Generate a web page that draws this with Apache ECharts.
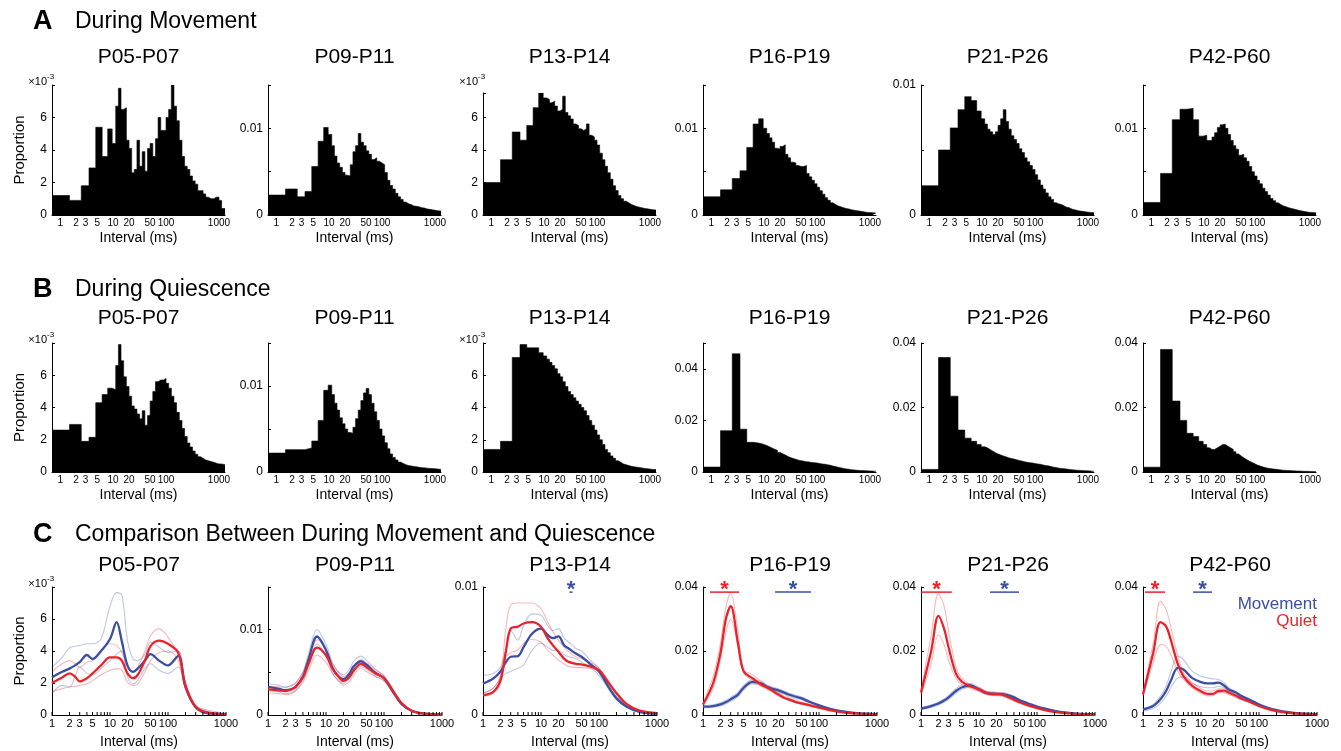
<!DOCTYPE html>
<html><head><meta charset="utf-8">
<script src="https://cdn.jsdelivr.net/npm/echarts@6/dist/echarts.min.js"></script>
<style>html,body{margin:0;padding:0;background:#fff}#c{width:1341px;height:751px}</style>
</head><body><div id="c"></div>
<script>
// ---------------- DATA (all proportions in units of 1e-3) ----------------
const SECTION_LETTERS = ['A', 'B', 'C'];
const SECTION_TITLES = ['During Movement', 'During Quiescence', 'Comparison Between During Movement and Quiescence'];
const AGE_GROUPS = ['P05-P07', 'P09-P11', 'P13-P14', 'P16-P19', 'P21-P26', 'P42-P60'];
const X_TICK_LABELS = [1, 2, 3, 5, 10, 20, 50, 100, 1000];
const X_MINOR_TICKS_C = [1,2,3,4,5,6,7,8,9,10,20,30,40,50,60,70,80,90,100,200,300,400,500,600,700,800,900,1000];
const LEGEND_NAMES = ['Movement', 'Quiet'];

// histogram bin edges (ms)
const BIN_EDGES = [0.7, 1.5, 2.5, 3.5, 4.7, 6.2, 7.9, 9.6, 11.2, 12.6, 14.1, 15.8, 17.8, 20, 22.4, 25.1, 28.2, 31.6, 35.5, 39.8, 44.7, 50.1, 56.2, 63.1, 70.8, 79.4, 89.1, 100, 112, 126, 141, 158, 178, 200, 224, 251, 282, 316, 355, 398, 447, 501, 562, 631, 708, 794, 891, 1000, 1122, 1300];

// A: during movement
const MOV_P05 = [1.2,0.9,1.8,2.9,5.4,3.6,5.3,4.4,6.7,7.8,6.5,6.6,4.6,4.1,2.6,2.8,4.6,3.0,3.9,2.7,4.1,4.4,3.6,4.7,6.0,5.2,5.2,6.0,6.5,8.0,6.7,5.8,4.6,3.6,3.0,2.8,2.4,2.1,1.9,1.5,1.5,1.3,1.1,1.0,1.0,1.1,1.1,0.9,0.4];
const MOV_P09 = [2.3,3.0,2.1,2.7,5.6,8.5,10.1,9.3,8.0,6.8,6.0,5.5,4.9,4.6,4.5,5.8,7.3,8.0,9.4,8.4,8.0,7.4,7.0,6.4,6.6,6.2,6.0,5.8,4.9,4.0,3.4,3.0,2.5,2.1,1.8,1.5,1.3,1.2,1.05,1.0,0.95,0.85,0.8,0.7,0.65,0.6,0.55,0.5,0.45];
const MOV_P13 = [2.0,3.4,5.1,4.6,5.5,6.6,7.5,7.2,7.1,6.9,7.0,6.7,6.4,6.5,7.3,6.3,6.1,5.9,5.6,5.5,5.3,5.2,5.3,5.6,4.9,4.8,4.6,4.3,3.8,3.4,3.0,2.6,2.2,1.8,1.5,1.2,1.0,0.85,0.75,0.65,0.58,0.52,0.48,0.44,0.4,0.38,0.35,0.33,0.3];
const MOV_P16 = [2.1,2.9,4.2,5.1,7.8,10.5,11.1,10.0,9.4,8.9,8.4,7.7,7.6,7.9,8.1,7.0,6.6,6.1,6.0,5.7,5.6,5.6,5.7,4.8,4.4,4.0,3.6,3.2,2.8,2.4,2.0,1.7,1.4,1.2,1.05,0.95,0.85,0.75,0.7,0.6,0.55,0.5,0.45,0.4,0.35,0.3,0.28,0.25,0.22];
const MOV_P21 = [2.25,5.0,6.7,8.1,9.1,8.8,8.0,7.4,7.0,6.6,6.4,6.2,6.4,6.9,7.4,8.1,7.2,6.6,6.1,5.8,5.5,5.1,4.8,4.4,4.1,3.8,3.5,3.1,2.7,2.3,2.0,1.7,1.4,1.2,0.95,0.85,0.8,0.7,0.6,0.55,0.45,0.4,0.35,0.3,0.28,0.25,0.22,0.2,0.18];
const MOV_P42 = [1.45,4.8,11.0,12.2,12.3,11.0,9.1,9.2,8.6,8.6,9.0,9.5,10.1,10.4,10.5,10.0,9.3,8.6,8.0,7.6,6.9,7.0,6.6,6.2,5.6,5.0,4.5,4.0,3.6,3.1,2.7,2.3,1.9,1.65,1.4,1.2,1.05,0.95,0.85,0.75,0.68,0.6,0.52,0.45,0.4,0.35,0.3,0.28,0.25];

// B: during quiescence
const QUI_P05 = [2.6,2.95,1.9,2.15,4.3,4.8,5.2,5.1,6.6,7.9,6.9,5.9,5.3,4.7,4.1,3.9,3.6,3.3,3.8,2.9,3.5,4.4,5.0,5.6,5.7,5.7,5.8,5.5,5.2,4.7,4.3,3.7,3.2,2.7,2.2,1.8,1.55,1.3,1.1,0.95,0.85,0.75,0.7,0.65,0.6,0.55,0.5,0.5,0.45];
const QUI_P09 = [2.2,2.6,2.6,2.8,3.6,6.0,9.5,10.1,9.0,8.0,7.2,6.3,5.6,5.0,4.6,4.5,5.2,6.2,7.2,8.3,9.2,9.7,9.0,8.0,7.0,6.0,5.0,4.2,3.4,2.7,2.1,1.7,1.4,1.15,1.0,0.85,0.75,0.7,0.65,0.6,0.55,0.5,0.48,0.45,0.42,0.4,0.38,0.35,0.3];
const QUI_P13 = [1.4,1.9,7.1,7.9,7.7,7.7,7.4,7.2,7.0,6.8,6.6,6.4,6.1,5.9,5.6,5.3,5.0,4.8,4.6,4.4,4.2,4.0,3.8,3.5,3.2,2.9,2.6,2.3,2.0,1.7,1.4,1.2,1.0,0.85,0.7,0.6,0.5,0.45,0.4,0.35,0.32,0.3,0.28,0.25,0.22,0.2,0.18,0.16,0.15];
const QUI_P16 = [1.9,16.0,45.8,16.6,11.5,11.2,10.8,10.3,9.8,9.3,8.8,8.4,7.6,7.1,6.6,6.0,5.6,5.2,4.9,4.6,4.4,4.2,4.0,3.9,3.7,3.6,3.5,3.3,3.1,3.0,2.8,2.6,2.3,2.1,1.8,1.6,1.4,1.2,1.05,0.9,0.8,0.7,0.6,0.55,0.5,0.45,0.4,0.35,0.3];
const QUI_P21 = [0.8,35.5,23.5,13.0,10.5,9.5,8.5,7.8,7.5,7.0,6.5,6.0,5.6,5.3,5.0,4.7,4.4,4.2,4.0,3.8,3.6,3.4,3.2,3.0,2.9,2.8,2.6,2.5,2.4,2.2,2.0,1.9,1.7,1.5,1.4,1.2,1.1,1.0,0.9,0.8,0.7,0.6,0.55,0.5,0.45,0.4,0.35,0.3,0.25];
const QUI_P42 = [1.5,38,22,16,12,11,9.5,8.5,7.5,7.0,7.0,7.5,8.0,8.5,8.5,8.0,7.5,7.0,6.3,5.6,5.0,4.4,3.9,3.4,3.0,2.6,2.2,1.9,1.6,1.4,1.2,1.05,0.95,0.85,0.75,0.65,0.55,0.5,0.45,0.4,0.35,0.3,0.28,0.25,0.22,0.2,0.18,0.16,0.15];

// C: smoothed comparison curves, sampled at these intervals (ms)
const X_C = [1, 1.5, 2, 2.5, 3, 4, 5, 7, 10, 13, 16, 20, 25, 30, 40, 50, 70, 100, 150, 200, 300, 500, 1000];
const C_P05_MOV    = [2.35,2.7,2.9,3.1,3.3,3.75,3.5,4.0,4.75,5.8,4.6,3.1,2.7,2.9,3.4,3.8,3.4,3.1,3.7,1.75,0.5,0.1,0.05];
const C_P05_QUI    = [2.0,2.35,2.6,2.4,2.1,2.3,2.6,3.1,3.6,3.6,3.4,2.6,2.3,2.5,3.4,4.3,4.65,4.45,3.9,1.85,0.5,0.15,0.05];
const C_P05_MOV_HI = [3.0,3.6,4.2,4.3,4.35,4.45,4.45,4.75,6.8,7.65,7.5,4.65,3.5,3.4,3.8,4.55,4.25,3.9,4.0,2.0,0.6,0.3,0.1];
const C_P05_MOV_LO = [1.35,1.85,1.75,2.4,3.0,2.6,2.5,2.9,3.4,3.8,4.0,2.4,1.95,2.15,2.9,3.2,2.8,2.6,3.0,1.65,0.4,0.05,0];
const C_P05_QUI_HI = [2.7,3.2,3.4,3.2,3.0,3.3,3.4,4.0,4.45,4.35,3.9,3.0,2.7,3.0,4.0,4.95,5.4,4.85,3.8,2.0,0.6,0.2,0.05];
const C_P05_QUI_LO = [1.45,1.65,1.75,1.8,1.85,1.95,2.15,2.5,2.8,2.9,2.8,2.05,1.85,1.95,2.7,3.4,3.9,4.0,3.4,1.65,0.45,0.1,0.05];

const C_P09_MOV    = [3.3,3.1,2.9,3.0,3.3,4.5,6.5,9.2,7.6,5.5,4.6,4.2,4.8,5.7,6.3,5.9,5.0,4.3,2.5,1.3,0.5,0.15,0.05];
const C_P09_QUI    = [3.0,2.9,2.8,3.0,3.3,4.4,6.0,7.9,7.0,5.4,4.6,4.0,4.4,5.2,6.0,5.6,4.9,4.3,2.6,1.4,0.5,0.15,0.05];
const C_P09_MOV_HI = [3.7,3.5,3.3,3.4,3.7,5.0,7.2,10.0,8.3,6.1,5.1,4.7,5.3,6.3,6.9,6.4,5.4,4.6,2.7,1.4,0.55,0.17,0.05];
const C_P09_MOV_LO = [2.9,2.7,2.5,2.6,2.9,4.0,5.8,8.3,6.9,4.9,4.1,3.7,4.3,5.1,5.7,5.4,4.6,4.0,2.3,1.2,0.45,0.13,0.05];
const C_P09_QUI_HI = [3.4,3.3,3.2,3.5,3.8,5.0,6.7,8.8,7.8,6.0,5.1,4.5,4.9,5.7,6.5,6.1,5.3,4.6,2.8,1.5,0.55,0.17,0.05];
const C_P09_QUI_LO = [2.6,2.5,2.4,2.5,2.8,3.8,5.3,7.0,6.2,4.8,4.1,3.5,3.9,4.7,5.5,5.1,4.5,4.0,2.4,1.3,0.45,0.13,0.05];

const C_P13_MOV    = [2.45,2.85,3.4,4.15,4.55,4.6,5.3,6.35,6.75,6.25,6.0,6.15,5.45,5.2,4.8,4.55,4.0,3.4,2.1,1.3,0.65,0.25,0.08];
const C_P13_QUI    = [1.55,1.8,2.7,5.05,6.75,6.9,7.15,7.25,6.9,6.0,5.45,4.95,4.4,4.15,4.0,3.95,3.8,3.5,2.45,1.7,0.85,0.35,0.15];
const C_P13_MOV_HI = [3.1,3.25,3.75,5.2,6.6,5.85,7.0,7.9,7.8,7.0,6.6,6.75,6.0,5.7,5.2,5.0,4.3,3.65,2.2,1.45,0.75,0.3,0.1];
const C_P13_MOV_LO = [1.7,2.1,2.85,3.25,3.4,3.65,3.9,5.05,5.6,5.3,5.05,5.05,4.7,4.55,4.4,4.15,3.75,3.1,1.95,1.2,0.6,0.25,0.08];
const C_P13_QUI_HI = [1.7,2.1,3.1,6.9,8.6,8.75,8.75,8.75,8.3,7.3,6.5,5.85,5.3,4.95,4.55,4.4,4.15,3.65,2.6,1.8,0.9,0.4,0.15];
const C_P13_QUI_LO = [1.45,1.7,2.45,4.55,4.85,5.1,5.6,5.9,5.7,5.05,4.7,4.3,4.0,3.8,3.7,3.7,3.65,3.4,2.4,1.65,0.85,0.35,0.15];

const C_P16_MOV    = [2.6,2.8,3.3,4.05,4.9,6.4,8.5,10.3,9.9,8.7,8.2,7.7,7.0,6.4,5.7,5.2,4.05,3.0,2.0,1.45,0.95,0.5,0.3];
const C_P16_QUI    = [3.3,10,19.4,30.3,34,22.5,13.7,11.6,9.55,8.5,7.5,6.4,5.4,4.9,4.05,3.6,3.0,2.3,1.55,1.15,0.7,0.4,0.2];
const C_P16_MOV_HI = [3.0,3.2,3.8,4.6,5.5,7.1,9.2,10.9,10.5,9.2,8.7,8.2,7.5,6.9,6.2,5.6,4.4,3.3,2.2,1.6,1.05,0.55,0.32];
const C_P16_MOV_LO = [2.2,2.4,2.8,3.5,4.3,5.7,7.8,9.7,9.3,8.2,7.7,7.2,6.5,5.9,5.2,4.8,3.7,2.7,1.8,1.3,0.85,0.45,0.28];
const C_P16_QUI_HI = [3.85,12.1,22.5,34,38.1,26.2,14.2,12.7,10.6,9.2,8.2,7.0,5.9,5.4,4.6,4.05,3.3,2.6,1.75,1.35,0.85,0.5,0.3];
const C_P16_QUI_LO = [2.8,8.5,17.3,26.2,29.8,21.5,13.2,10.9,9.0,8.0,7.0,5.9,5.1,4.6,3.85,3.3,2.8,2.1,1.45,1.05,0.6,0.4,0.2];

const C_P21_MOV    = [2.0,2.8,3.6,4.5,5.5,7.5,8.6,9.3,8.0,7.0,6.7,6.5,6.5,6.3,5.5,4.6,3.6,2.6,1.8,1.3,0.8,0.4,0.2];
const C_P21_QUI    = [7.0,20,31,27,21,13,10.5,9.0,8.0,7.0,6.6,6.6,6.4,5.8,4.8,4.0,3.0,2.2,1.4,1.0,0.6,0.3,0.15];
const C_P21_MOV_HI = [2.4,3.2,4.1,5.0,6.1,8.2,9.3,9.9,8.6,7.5,7.2,7.0,7.0,6.8,5.9,4.9,3.9,2.8,1.9,1.4,0.9,0.45,0.22];
const C_P21_MOV_LO = [1.6,2.4,3.1,4.0,4.9,6.8,7.9,8.7,7.4,6.5,6.2,6.0,6.0,5.8,5.1,4.3,3.3,2.4,1.7,1.2,0.7,0.35,0.18];
const C_P21_QUI_HI = [7.8,25,38,34,26,15,11.5,9.6,8.5,7.5,7.1,7.1,6.9,6.2,5.2,4.3,3.3,2.4,1.5,1.1,0.7,0.35,0.18];
const C_P21_QUI_LO = [6.2,16,25,22,17,11.5,9.5,8.4,7.4,6.5,6.1,6.1,5.9,5.4,4.4,3.7,2.8,2.0,1.3,0.9,0.5,0.25,0.12];

const C_P42_MOV    = [1.75,2.8,4.9,7.5,10.6,14.7,14.2,11.6,10.3,9.9,9.9,10.1,9.2,8.0,7.0,5.9,4.7,3.3,2.1,1.55,0.95,0.5,0.3];
const C_P42_QUI    = [6.45,19.4,29,27.7,23.6,15.8,12.1,9.2,7.4,6.6,6.6,7.5,7.6,7.0,6.0,5.1,4.05,2.8,1.75,1.25,0.75,0.4,0.2];
const C_P42_MOV_HI = [2.0,3.3,5.9,9.0,13.2,18.4,17.3,13.7,12.1,11.6,11.3,11.1,10.1,8.5,7.3,6.2,4.9,3.5,2.3,1.65,1.05,0.6,0.3];
const C_P42_MOV_LO = [1.25,2.0,3.6,5.9,8.5,11.6,11.9,9.9,8.8,8.5,8.5,9.0,8.5,7.5,6.4,5.6,4.4,3.1,1.9,1.35,0.85,0.4,0.2];
const C_P42_QUI_HI = [7.0,22.5,35.5,33,27.7,18.4,13.2,10.3,8.3,7.5,7.5,8.2,8.2,7.6,6.4,5.5,4.4,3.1,2.0,1.45,0.85,0.5,0.3];
const C_P42_QUI_LO = [5.9,16.3,22,21.5,18.9,13.7,11.1,8.5,6.8,6.0,6.0,7.0,7.0,6.4,5.5,4.8,3.75,2.6,1.55,1.05,0.6,0.3,0.2];

// significance bars: [x start (ms), x end (ms), y level, which]
const SIG_P13 = [[31, 35, 9.6, 'mov']];
const SIG_P16 = [[1.32, 4.2, 38.4, 'qui'], [17.5, 73, 38.4, 'mov']];
const SIG_P21 = [[1.0, 3.4, 38.4, 'qui'], [15.5, 49, 38.4, 'mov']];
const SIG_P42 = [[1.08, 2.4, 38.4, 'qui'], [7.3, 15.5, 38.4, 'mov']];

// ---------------- LAYOUT / STYLE ----------------
const FONT = 'Liberation Sans, Arial, Helvetica, sans-serif';
const BLUE = '#3a4fa3', RED = '#e8232b';
const BLUE_L = 'rgba(58,79,163,0.32)', RED_L = 'rgba(232,35,43,0.32)';
const COL_LEFT = [52, 268, 483, 703, 921, 1143];
const ROW_TOP = [85, 343, 587], ROW_BOTTOM = [215, 472, 715];
const SECTION_Y = [22, 290, 535], TITLE_Y = [57, 318, 565];
const YMAX = [[8,15,7.5,15,10,15],[8,15,8,50,40,40],[8,15,10,40,40,40]];
const YINT = [[2,5,2,5,5,5],[2,5,2,20,20,20],[2,5,5,20,20,20]];
const E3 = [[1,0,1,0,0,0],[1,0,1,0,0,0],[1,0,0,0,0,0]];

const HIST = [[MOV_P05, MOV_P09, MOV_P13, MOV_P16, MOV_P21, MOV_P42],
              [QUI_P05, QUI_P09, QUI_P13, QUI_P16, QUI_P21, QUI_P42]];
const CURVES = [
  [C_P05_MOV, C_P05_QUI, C_P05_MOV_HI, C_P05_MOV_LO, C_P05_QUI_HI, C_P05_QUI_LO],
  [C_P09_MOV, C_P09_QUI, C_P09_MOV_HI, C_P09_MOV_LO, C_P09_QUI_HI, C_P09_QUI_LO],
  [C_P13_MOV, C_P13_QUI, C_P13_MOV_HI, C_P13_MOV_LO, C_P13_QUI_HI, C_P13_QUI_LO],
  [C_P16_MOV, C_P16_QUI, C_P16_MOV_HI, C_P16_MOV_LO, C_P16_QUI_HI, C_P16_QUI_LO],
  [C_P21_MOV, C_P21_QUI, C_P21_MOV_HI, C_P21_MOV_LO, C_P21_QUI_HI, C_P21_QUI_LO],
  [C_P42_MOV, C_P42_QUI, C_P42_MOV_HI, C_P42_MOV_LO, C_P42_QUI_HI, C_P42_QUI_LO]];
const SIGS = [null, null, SIG_P13, SIG_P16, SIG_P21, SIG_P42];

const option = { animation: false, backgroundColor: '#fff', grid: [], xAxis: [], yAxis: [], series: [], graphic: [] };

function txt(x, y, text, size, color, align, weight) {
  return { type: 'text', x: x, y: y, silent: true,
    style: { text: text, fill: color || '#000', font: (weight || 'normal') + ' ' + size + 'px ' + FONT,
             align: align || 'left', textAlign: align || 'left', verticalAlign: 'middle', textVerticalAlign: 'middle' } };
}

for (let r = 0; r < 3; r++) {
  option.graphic.push(txt(33, SECTION_Y[r], SECTION_LETTERS[r], 27, '#000', 'left', 'bold'));
  option.graphic.push(txt(75, SECTION_Y[r], SECTION_TITLES[r], 23, '#000', 'left'));
  for (let c = 0; c < 6; c++) {
    const i = r * 6 + c;
    const left = COL_LEFT[c];
    const top = (r === 0 && c === 2) ? 93 : ROW_TOP[r];
    const bottom = ROW_BOTTOM[r];
    const width = r < 2 ? 173 : 174;
    const isC = r === 2;
    const ymax = YMAX[r][c], e3 = E3[r][c];
    option.grid.push({ left: left, top: top, width: width, height: bottom - top });
    option.graphic.push(txt(left + width / 2, TITLE_Y[r], AGE_GROUPS[c], 21, '#000', 'center'));
    if (e3) {
      option.graphic.push(txt(left - 5, ROW_TOP[r] - 3, '\u00d710', 11, '#000', 'right'));
      option.graphic.push(txt(left - 5, ROW_TOP[r] - 8, '-3', 8, '#000', 'left'));
    }
    option.xAxis.push({
      type: 'log', gridIndex: i, logBase: 10, min: isC ? 1 : 0.7, max: isC ? 1000 : 1300,
      axisLine: { show: true, lineStyle: { color: '#000', width: 1 } },
      axisTick: { show: false }, axisLabel: { show: false }, splitLine: { show: false },
      name: 'Interval (ms)', nameLocation: 'middle', nameGap: isC ? 20 : 16,
      nameTextStyle: { fontSize: 14, color: '#000', fontFamily: FONT }
    });
    option.yAxis.push({
      type: 'value', gridIndex: i, min: 0, max: ymax, interval: YINT[r][c],
      axisLine: { show: true, lineStyle: { color: '#000', width: 1 } },
      axisTick: { show: true, inside: true, length: 3, lineStyle: { color: '#000' } },
      splitLine: { show: false },
      axisLabel: { fontSize: 12, color: '#000', fontFamily: FONT, margin: 5, showMaxLabel: true,
        formatter: function (v) {
          if (e3) return v < ymax - 1e-9 ? String(v) : '';
          return (Math.abs(v % 10) < 1e-9 && v !== 50) ? String(+(v / 1000).toFixed(3)) : '';
        } },
      name: c === 0 ? 'Proportion' : '', nameLocation: 'middle', nameGap: 25, nameRotate: 90,
      nameTextStyle: { fontSize: 15, color: '#000', fontFamily: FONT }
    });

    if (!isC) {
      const vals = HIST[r][c];
      const pts = vals.map((v, k) => [BIN_EDGES[k], v]);
      pts.push([BIN_EDGES[BIN_EDGES.length - 1], vals[vals.length - 1]]);
      option.series.push({ type: 'line', xAxisIndex: i, yAxisIndex: i, data: pts, step: 'end',
        symbol: 'none', silent: true, lineStyle: { color: '#000', width: 0.6 },
        areaStyle: { color: '#000', opacity: 1 } });
    } else {
      const cv = CURVES[c];
      const defs = [[cv[2], BLUE_L, 1.1], [cv[3], BLUE_L, 1.1], [cv[4], RED_L, 1.1], [cv[5], RED_L, 1.1],
                    [cv[0], BLUE, 2.3], [cv[1], RED, 2.3]];
      defs.forEach(d => {
        option.series.push({ type: 'line', xAxisIndex: i, yAxisIndex: i, smooth: 0.35, symbol: 'none', silent: true,
          data: X_C.map((x, k) => [x, d[0][k]]), lineStyle: { color: d[1], width: d[2] } });
      });
      if (SIGS[c]) {
        option.series.push({ type: 'custom', xAxisIndex: i, yAxisIndex: i, silent: true, clip: false,
          data: SIGS[c].map(s => [s[0], s[1], s[2], s[3] === 'mov' ? 0 : 1]),
          renderItem: function (params, api) {
            const p0 = api.coord([api.value(0), api.value(2)]);
            const p1 = api.coord([api.value(1), api.value(2)]);
            const col = api.value(3) ? RED : BLUE;
            return { type: 'group', children: [
              { type: 'line', shape: { x1: p0[0], y1: p0[1], x2: p1[0], y2: p1[1] }, style: { stroke: col, lineWidth: 1.5 } },
              { type: 'text', x: (p0[0] + p1[0]) / 2, y: p0[1] - 2,
                style: { text: '*', fill: col, font: 'bold 22px ' + FONT, align: 'center', textAlign: 'center', verticalAlign: 'middle', textVerticalAlign: 'middle' } }
            ] };
          } });
      }
    }
    // x tick labels / ticks
    const tickVals = isC ? X_MINOR_TICKS_C : X_TICK_LABELS;
    const tickFont = isC ? 11 : 10;
    option.series.push({ type: 'custom', xAxisIndex: i, yAxisIndex: i, silent: true, clip: false, z: 5,
      data: tickVals.map(v => [v, 0]),
      renderItem: function (params, api) {
        const v = api.value(0);
        const p = api.coord([v, 0]);
        const ch = [];
        if (isC) ch.push({ type: 'line', shape: { x1: p[0], y1: p[1], x2: p[0], y2: p[1] - 3 }, style: { stroke: '#000', lineWidth: 1 } });
        if (X_TICK_LABELS.indexOf(v) >= 0) ch.push({ type: 'text', x: p[0], y: p[1] + 3,
          style: { text: String(v), fill: '#000', font: tickFont + 'px ' + FONT, align: 'center', textAlign: 'center', verticalAlign: 'top', textVerticalAlign: 'top' } });
        return { type: 'group', children: ch };
      } });
  }
}
option.graphic.push(txt(1317, 604, LEGEND_NAMES[0], 17, BLUE, 'right'));
option.graphic.push(txt(1317, 621, LEGEND_NAMES[1], 17, RED, 'right'));

const chart = echarts.init(document.getElementById('c'));
chart.setOption(option);
</script></body></html>
